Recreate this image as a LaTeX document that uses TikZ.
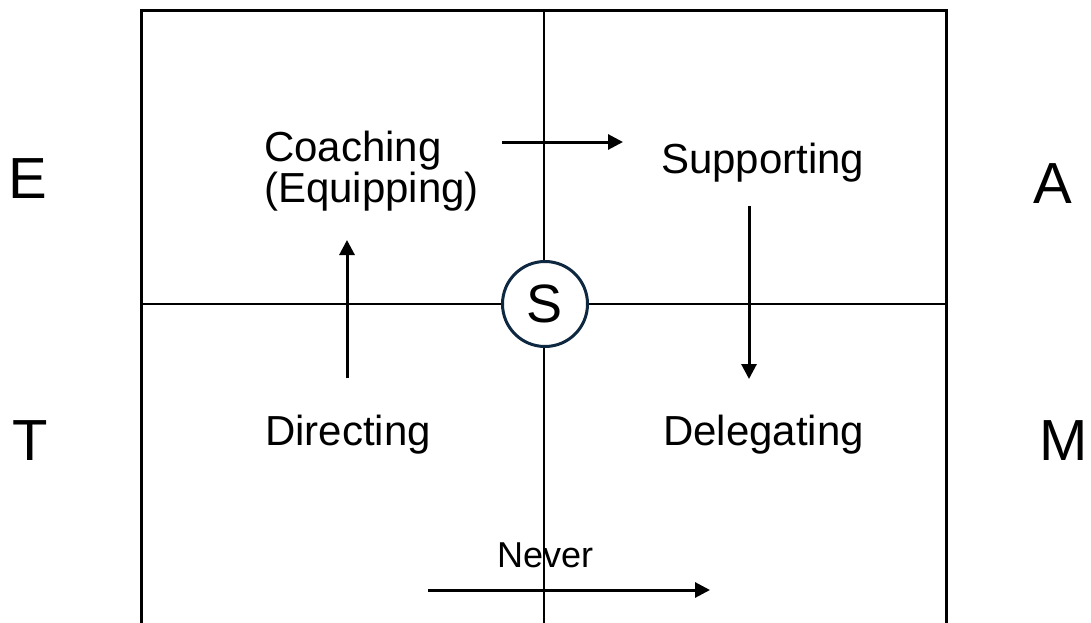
\documentclass[tikz,border=0pt]{standalone}
\usepackage{fontspec}
\setmainfont{Liberation Sans}
\usetikzlibrary{arrows.meta}
\definecolor{navy}{HTML}{0E2841}

\begin{document}
\begin{tikzpicture}[x=1pt,y=-1pt,inner sep=0pt,
	mode/.style={anchor=base west, align=left, font=\fontsize{42}{37}\selectfont},
	side/.style={anchor=base west, font=\fontsize{58}{60}\selectfont},
	flow/.style={line width=3pt, -{Triangle[length=15pt,width=15pt]}}]
\useasboundingbox (0,0) rectangle (1091,623);
% frame and quadrants
\draw[line width=3pt]	(141,623) -- (141,10.5) -- (946,10.5) -- (946,623);
\draw[line width=2pt]	(544,10.5) -- (544,623);
\draw[line width=2pt]	(141,304) -- (946,304);
\node[circle, draw=navy, line width=3pt, fill=white, minimum size=85pt, font=\fontsize{54}{54}\selectfont]	(s_c)	at (545,304)	{S};

% styles of the quadrants
\node[mode]		(q_coach)	at (264,202)	{Coaching\\(Equipping)};
\node[mode]		(q_supp)	at (661,173)	{Supporting};
\node[mode]		(q_dir)		at (265,445)	{Directing};
\node[mode]		(q_deleg)	at (663,445)	{Delegating};
\node[anchor=base west, font=\fontsize{36}{36}\selectfont]	(q_never)	at (497,567)	{Never};

% letters at the sides
\node[side]		(l_e)		at (8,198)		{E};
\node[side]		(l_t)		at (12,460)		{T};
\node[side]		(l_a)		at (1033,203)	{A};
\node[side]		(l_m)		at (1039,460)	{M};

% ends of the arrows
\coordinate	(up_a)		at (347,378);
\coordinate	(up_b)		at (347,240);
\coordinate	(right_a)	at (502,142);
\coordinate	(right_b)	at (623,142);
\coordinate	(down_a)	at (749,206);
\coordinate	(down_b)	at (749,379);
\coordinate	(never_a)	at (428,590);
\coordinate	(never_b)	at (710,590);
\draw[flow]	(up_a)		-- (up_b);
\draw[flow]	(right_a)	-- (right_b);
\draw[flow]	(down_a)	-- (down_b);
\draw[flow]	(never_a)	-- (never_b);
\end{tikzpicture}
\end{document}
